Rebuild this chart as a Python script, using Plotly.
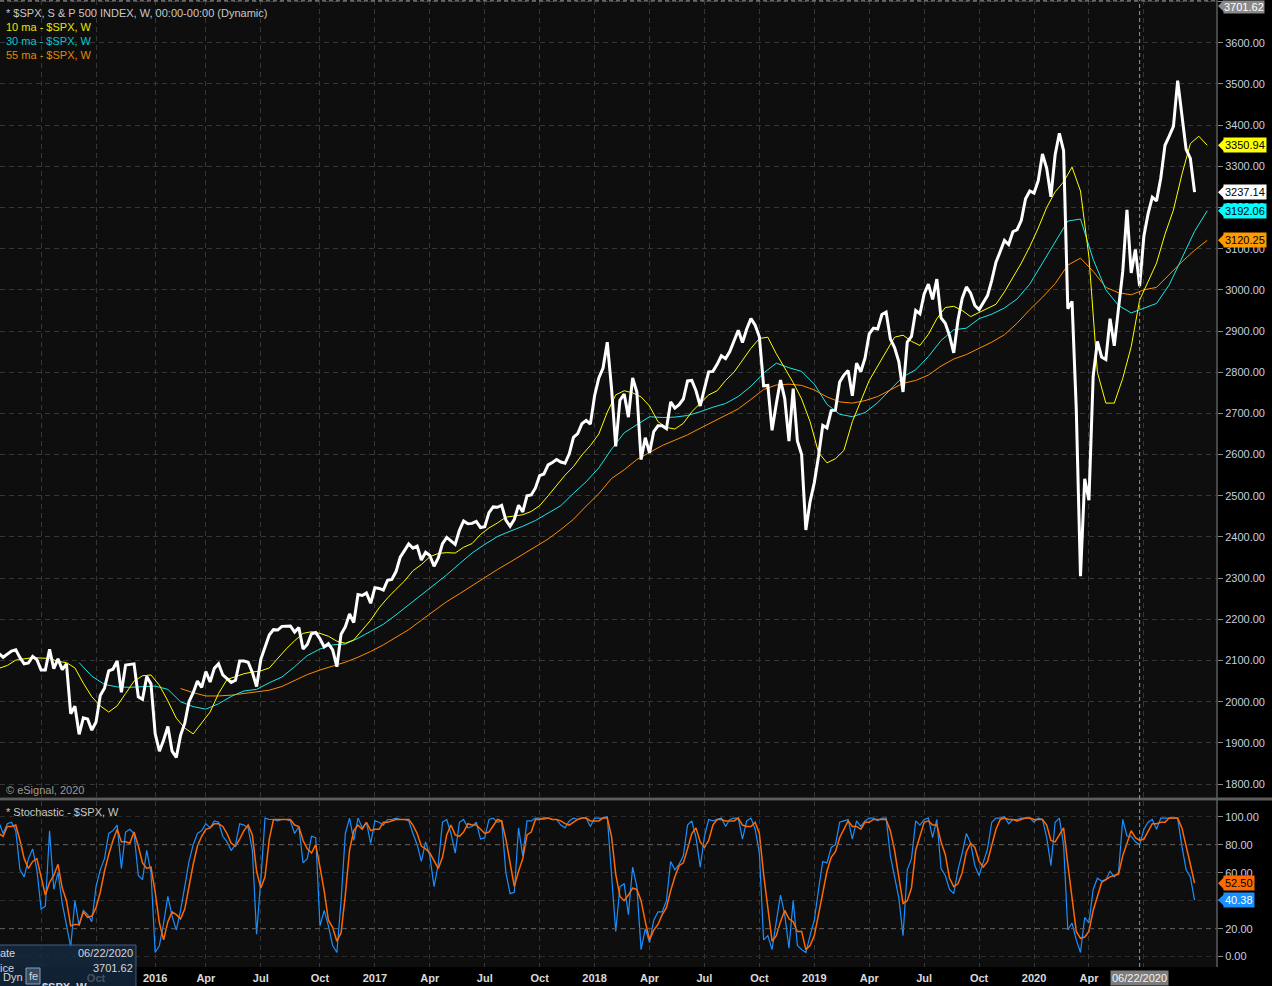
import pandas as pd
import plotly.graph_objects as go

# $SPX weekly closes, one per week (Friday), starting 2015-04-17
first_week = "2015-04-17"
close_2015 = [2081, 2117, 2108, 2116, 2123, 2126, 2107, 2092, 2094, 2110, 2102, 2077, 2077, 2127, 2080, 2104,
              2078, 2092, 1971, 1989, 1921, 1961, 1958, 1931, 1951, 2015, 2033, 2075, 2079, 2099, 2023, 2089,
              2090, 2092, 2012, 2006, 2061, 2044]
close_2016 = [1922, 1880, 1907, 1940, 1880, 1865, 1918, 1948, 2000, 2022, 2050, 2035, 2073, 2048, 2081, 2092,
              2065, 2057, 2047, 2052, 2099, 2099, 2096, 2071, 2037, 2103, 2130, 2162, 2175, 2174, 2183, 2184,
              2184, 2169, 2180, 2128, 2139, 2165, 2168, 2153, 2133, 2141, 2126, 2085, 2164, 2182, 2213, 2192,
              2260, 2258, 2264, 2239]
close_2017 = [2277, 2275, 2271, 2295, 2297, 2316, 2351, 2367, 2383, 2373, 2378, 2344, 2363, 2355, 2329, 2349,
              2384, 2399, 2391, 2382, 2416, 2439, 2432, 2433, 2438, 2423, 2425, 2459, 2473, 2472, 2477, 2441,
              2426, 2443, 2477, 2461, 2500, 2502, 2519, 2549, 2553, 2575, 2581, 2588, 2582, 2579, 2602, 2642,
              2651, 2675, 2683, 2674]
close_2018 = [2743, 2786, 2810, 2873, 2762, 2620, 2732, 2747, 2691, 2786, 2752, 2588, 2641, 2604, 2656, 2670,
              2670, 2663, 2728, 2713, 2721, 2735, 2779, 2780, 2755, 2718, 2760, 2801, 2802, 2819, 2840, 2833,
              2850, 2875, 2902, 2872, 2905, 2930, 2914, 2886, 2767, 2768, 2659, 2723, 2781, 2736, 2633, 2760,
              2633, 2600, 2417, 2486]
close_2019 = [2532, 2596, 2671, 2665, 2707, 2708, 2776, 2793, 2804, 2743, 2822, 2801, 2834, 2893, 2907, 2905,
              2940, 2946, 2881, 2860, 2826, 2752, 2873, 2887, 2950, 2942, 2990, 3014, 2977, 3026, 2932, 2919,
              2889, 2847, 2926, 2979, 3007, 2992, 2962, 2952, 2970, 2986, 3023, 3067, 3093, 3120, 3110, 3141,
              3146, 3169, 3221, 3240]
close_2020 = [3235, 3265, 3330, 3295, 3226, 3328, 3380, 3338, 2954, 2972, 2711, 2305, 2541, 2489, 2790, 2875,
              2837, 2831, 2930, 2864, 2955, 3044, 3194, 3041, 3098, 3009, 3130, 3185, 3225, 3216, 3271, 3351,
              3373, 3397, 3508, 3427, 3341, 3319, 3237.14]
close = close_2015 + close_2016 + close_2017 + close_2018 + close_2019 + close_2020

# moving averages; they run 3 weeks past the last price bar
ma10_start, ma10_step = 1, 2
ma10 = [2081, 2088, 2101, 2104, 2107, 2106, 2105, 2098, 2095, 2082,
        2045, 2012, 1990, 1975, 1990, 2020, 2050, 2063, 2065, 2040,
        2002, 1960, 1936, 1922, 1948, 1975, 2020, 2054, 2061, 2068,
        2072, 2075, 2082, 2105, 2128, 2148, 2166, 2170, 2166, 2159,
        2147, 2142, 2150, 2174, 2198, 2228, 2252, 2273, 2293, 2318,
        2333, 2352, 2360, 2362, 2361, 2375, 2384, 2406, 2422, 2434,
        2448, 2451, 2454, 2462, 2476, 2500, 2525, 2550, 2571, 2599,
        2622, 2650, 2703, 2745, 2755, 2750, 2740, 2718, 2680, 2666,
        2662, 2676, 2704, 2725, 2745, 2755, 2780, 2800, 2828, 2858,
        2882, 2885, 2845, 2810, 2775, 2735, 2680, 2605, 2580, 2590,
        2610, 2680, 2730, 2780, 2815, 2850, 2885, 2890, 2875, 2865,
        2892, 2930, 2957, 2960, 2950, 2935, 2945, 2953, 2965, 2995,
        3030, 3065, 3105, 3150, 3200, 3238, 3262, 3298, 3240, 3080,
        2800, 2725, 2725, 2785, 2862, 2975, 3020, 3065, 3135, 3194,
        3280, 3355, 3373, 3350.94]
ma30_start, ma30_step = 20, 3
ma30 = [2095, 2062, 2042, 2036, 2035, 2037, 2038, 2030, 2000, 1988,
        1982, 1995, 2013, 2026, 2030, 2046, 2060, 2085, 2112, 2128,
        2138, 2140, 2154, 2171, 2188, 2211, 2235, 2258, 2284, 2308,
        2335, 2361, 2382, 2401, 2414, 2426, 2440, 2458, 2476, 2506,
        2534, 2568, 2613, 2653, 2672, 2692, 2690, 2691, 2695, 2704,
        2715, 2724, 2741, 2766, 2798, 2822, 2811, 2802, 2771, 2722,
        2698, 2692, 2702, 2726, 2758, 2789, 2806, 2838, 2877, 2903,
        2907, 2930, 2941, 2956, 2978, 3014, 3065, 3115, 3167, 3172,
        3074, 3000, 2962, 2944, 2956, 2967, 3012, 3078, 3142, 3192.06]
ma55_start, ma55_step = 44, 3
ma55 = [2032, 2022, 2014, 2014, 2016, 2020, 2023, 2028, 2037, 2052,
        2066, 2077, 2087, 2096, 2108, 2122, 2138, 2157, 2175, 2198,
        2221, 2243, 2262, 2282, 2302, 2321, 2339, 2358, 2376, 2395,
        2418, 2443, 2475, 2505, 2542, 2563, 2588, 2606, 2622, 2635,
        2648, 2664, 2680, 2694, 2711, 2734, 2758, 2769, 2771, 2768,
        2757, 2740, 2728, 2725, 2731, 2741, 2757, 2773, 2780, 2793,
        2815, 2832, 2843, 2857, 2873, 2891, 2919, 2952, 2982, 3015,
        3060, 3077, 3045, 3006, 2993, 2988, 3000, 3006, 3038, 3068,
        3096, 3120.25]

# weekly stochastic, %K (blue) and %D (orange), one value per price bar
stoch_k = [75, 96, 88, 95, 96, 90, 62, 57, 70, 77,
           62, 34, 36, 90, 48, 60, 38, 22, 7, 40,
           22, 33, 30, 25, 50, 62, 70, 88, 90, 94,
           63, 89, 91, 88, 58, 55, 76, 60, 3, 8,
           24, 43, 29, 19, 33, 50, 68, 80, 88, 90,
           95, 92, 97, 96, 86, 82, 76, 80, 95, 94,
           92, 76, 16, 55, 99, 98, 98, 97, 98, 98,
           97, 88, 93, 67, 70, 86, 85, 22, 33, 22,
           8, 3, 40, 88, 99, 83, 99, 92, 96, 81,
           97, 96, 94, 98, 98, 99, 98, 98, 97, 88,
           80, 68, 82, 72, 50, 66, 96, 98, 88, 74,
           96, 98, 92, 93, 96, 84, 85, 98, 99, 96,
           97, 60, 45, 46, 92, 72, 97, 97, 99, 99,
           98, 99, 98, 98, 94, 92, 97, 99, 98, 99,
           99, 93, 99, 99, 99, 100, 60, 18, 50, 52,
           30, 64, 50, 5, 20, 10, 26, 32, 32, 40,
           68, 62, 66, 72, 94, 97, 85, 64, 86, 98,
           97, 98, 99, 93, 98, 99, 99, 84, 97, 99,
           91, 74, 12, 15, 5, 25, 44, 30, 6, 40,
           8, 5, 3, 15, 26, 48, 68, 67, 78, 80,
           96, 97, 98, 84, 97, 93, 97, 99, 99, 97,
           99, 99, 72, 57, 42, 15, 62, 70, 97, 94,
           98, 99, 85, 98, 63, 58, 48, 45, 62, 74,
           88, 81, 65, 58, 68, 77, 96, 99, 99, 100,
           95, 98, 98, 99, 99, 99, 96, 99, 98, 85,
           65, 96, 99, 80, 19, 24, 12, 3, 28, 24,
           48, 56, 54, 55, 61, 57, 60, 98, 86, 86,
           82, 80, 91, 96, 98, 91, 99, 99, 99, 99,
           99, 79, 62, 57, 40.38]
stoch_d = [85, 88, 86, 93, 93, 94, 83, 70, 63, 68,
           70, 58, 44, 53, 58, 66, 49, 40, 22, 23,
           23, 32, 28, 29, 35, 46, 61, 73, 83, 91,
           82, 82, 81, 89, 79, 67, 63, 64, 46, 24,
           12, 25, 32, 30, 27, 34, 50, 66, 79, 86,
           91, 92, 95, 95, 93, 88, 81, 79, 84, 90,
           94, 87, 61, 49, 57, 84, 98, 98, 98, 98,
           98, 94, 93, 83, 77, 74, 80, 64, 47, 26,
           21, 11, 17, 44, 76, 90, 94, 91, 96, 90,
           91, 91, 96, 96, 97, 98, 98, 98, 98, 94,
           88, 79, 77, 74, 68, 63, 71, 87, 94, 87,
           86, 89, 95, 94, 94, 91, 88, 89, 94, 98,
           97, 84, 67, 50, 61, 70, 87, 89, 98, 98,
           99, 99, 98, 98, 97, 95, 94, 96, 98, 99,
           99, 97, 97, 97, 99, 99, 86, 59, 43, 40,
           44, 49, 48, 40, 25, 12, 19, 23, 30, 35,
           47, 57, 65, 67, 77, 88, 92, 82, 78, 83,
           94, 98, 98, 97, 97, 97, 99, 94, 93, 93,
           96, 88, 59, 34, 11, 15, 25, 33, 27, 25,
           18, 18, 5, 8, 15, 30, 47, 61, 71, 75,
           85, 91, 97, 93, 93, 91, 96, 96, 98, 98,
           98, 98, 90, 76, 57, 38, 40, 49, 76, 87,
           96, 97, 94, 94, 82, 73, 56, 50, 52, 60,
           75, 81, 78, 68, 64, 68, 80, 91, 98, 99,
           98, 98, 97, 98, 99, 99, 98, 98, 98, 94,
           83, 82, 87, 92, 66, 41, 18, 13, 14, 18,
           33, 43, 53, 55, 57, 58, 59, 72, 81, 90,
           85, 83, 84, 89, 95, 95, 96, 96, 99, 99,
           99, 92, 80, 66, 52.5]

quarter_dates = ["2015-07-03", "2015-10-02", "2016-01-08", "2016-04-01", "2016-07-01", "2016-10-07",
                 "2017-01-06", "2017-04-07", "2017-07-07", "2017-10-06", "2018-01-05", "2018-04-06",
                 "2018-07-06", "2018-10-05", "2019-01-04", "2019-04-05", "2019-07-05", "2019-10-04",
                 "2020-01-03", "2020-04-03", "2020-07-03"]
quarter_labels = ["", "Oct", "2016", "Apr", "Jul", "Oct", "2017", "Apr", "Jul", "Oct", "2018", "Apr",
                  "Jul", "Oct", "2019", "Apr", "Jul", "Oct", "2020", "Apr", "Jul"]

cursor_date_label = "06/22/2020"
cursor_price = 3701.62

W, H = 1272, 986
weeks = pd.date_range(first_week, periods=len(close) + 3, freq="7D")
bars = weeks[:len(close)]


def px(x):
    return x / W


def py(y):
    return 1 - y / H


def week_at(k):
    return weeks[0] + pd.Timedelta(days=7 * k)


plot_right = px(1217)
font_name = "Liberation Sans, Arial, sans-serif"

fig = go.Figure()

# main pane
fig.add_trace(go.Scatter(x=weeks[ma55_start::ma55_step][:len(ma55)], y=ma55, mode="lines",
                         line=dict(color="#ff8c00", width=1)))
fig.add_trace(go.Scatter(x=weeks[ma30_start::ma30_step][:len(ma30)], y=ma30, mode="lines",
                         line=dict(color="#1ee6e6", width=1)))
fig.add_trace(go.Scatter(x=weeks[ma10_start::ma10_step][:len(ma10)], y=ma10, mode="lines",
                         line=dict(color="#ffff00", width=1)))
fig.add_trace(go.Scatter(x=bars, y=close, mode="lines", line=dict(color="#ffffff", width=3)))

# stochastic pane
fig.add_trace(go.Scatter(x=bars, y=stoch_k, mode="lines", xaxis="x2", yaxis="y2",
                         line=dict(color="#1a8fff", width=1.2)))
fig.add_trace(go.Scatter(x=bars, y=stoch_d, mode="lines", xaxis="x2", yaxis="y2",
                         line=dict(color="#ff6a00", width=1.5)))

grid = dict(showgrid=True, gridcolor="#363636", griddash="5px,4px", gridwidth=1, zeroline=False)
axis_font = dict(family=font_name, size=11, color="#c5cfe0")

fig.update_layout(
    width=W, height=H, margin=dict(l=0, r=0, t=0, b=0),
    paper_bgcolor="#000000", plot_bgcolor="#0e0e0e",
    showlegend=False, font=dict(family=font_name),
    xaxis=dict(domain=[0, plot_right], anchor="y", type="date",
               range=[week_at(1.27), week_at(289.31)],
               tickvals=quarter_dates, showticklabels=False, ticks="", **grid),
    xaxis2=dict(domain=[0, plot_right], anchor="y2", matches="x", type="date",
                tickvals=quarter_dates, ticktext=["<b>%s</b>" % t for t in quarter_labels],
                tickfont=dict(family=font_name, size=11, color="#dadada"), ticks="",
                ticklabelstandoff=3, **grid),
    yaxis=dict(domain=[py(797), 1], anchor="x", side="right", range=[1768.7, 3703.7],
               tickvals=list(range(1800, 3701, 100)), tickformat=".2f",
               ticks="outside", ticklen=5, tickcolor="#8a8a8a", tickfont=axis_font, **grid),
    yaxis2=dict(domain=[py(967), py(801)], anchor="x2", side="right", range=[-7.4, 111.2],
                tickvals=[0, 20, 40, 60, 80, 100], tickformat=".2f",
                ticks="outside", ticklen=5, tickcolor="#8a8a8a", tickfont=axis_font,
                showgrid=True, gridcolor="#2c2c2c", griddash="5px,4px", zeroline=False),
)

shapes = []
# stronger 80 / 20 levels
for level in (80, 20):
    shapes.append(dict(type="line", xref="paper", yref="y2", x0=0, x1=plot_right, y0=level, y1=level,
                       line=dict(color="#5e5e5e", width=1, dash="5px,4px")))
# pane separators
shapes.append(dict(type="line", xref="paper", yref="paper", x0=0, x1=1, y0=py(799), y1=py(799),
                   line=dict(color="#5c5c5c", width=3)))
shapes.append(dict(type="line", xref="paper", yref="paper", x0=plot_right, x1=plot_right,
                   y0=py(967), y1=1, line=dict(color="#5c5c5c", width=1.5)))
# cursor cross-hair
cursor_week = weeks[271]
shapes.append(dict(type="line", xref="x", yref="paper", x0=cursor_week, x1=cursor_week,
                   y0=py(967), y1=1, line=dict(color="#9a9a9a", width=1, dash="4px,3px")))
shapes.append(dict(type="line", xref="paper", yref="y", x0=0, x1=plot_right,
                   y0=cursor_price, y1=cursor_price, line=dict(color="#9a9a9a", width=1, dash="4px,3px")))

annotations = []

# header texts
headers = [("* $SPX, S & P 500 INDEX, W, 00:00-00:00 (Dynamic)", "#c8c8c8", 13),
           ("10 ma - $SPX, W", "#e6e600", 27),
           ("30 ma - $SPX, W", "#00c8cc", 41),
           ("55 ma - $SPX, W", "#e08800", 55),
           ("© eSignal, 2020", "#9a9a9a", 790),
           ("* Stochastic - $SPX, W", "#c8c8c8", 812)]
for text, color, y in headers:
    annotations.append(dict(text=text, xref="paper", yref="paper", x=px(4), y=py(y),
                            xanchor="left", yanchor="middle", showarrow=False,
                            font=dict(family=font_name, size=11, color=color)))

# last-value tags on the right scales
tags = [(3350.94, "y", "#ffff00", "#000000"),
        (3237.14, "y", "#ffffff", "#000000"),
        (3192.06, "y", "#00ffff", "#000000"),
        (3120.25, "y", "#ff9a00", "#000000"),
        (52.50, "y2", "#ff6a00", "#000000"),
        (40.38, "y2", "#1a8fff", "#ffffff")]
for value, yref, bg, fg in tags:
    half = 6 / 0.41189 if yref == "y" else 6 / 1.4
    shapes.append(dict(type="path", xref="paper", yref=yref, fillcolor=bg, line=dict(width=0),
                       path="M %f,%f L %f,%f L %f,%f Z" % (px(1218), value, px(1224), value + half,
                                                            px(1224), value - half)))
    annotations.append(dict(text="%.2f" % value, xref="paper", yref=yref, x=px(1223), y=value,
                            xanchor="left", yanchor="middle", showarrow=False, bgcolor=bg,
                            borderpad=1, font=dict(family=font_name, size=11, color=fg)))

# cursor price tag (top) and cursor date tag (bottom)
shapes.append(dict(type="path", xref="paper", yref="paper", fillcolor="#8a8a8a", line=dict(width=0),
                   path="M %f,%f L %f,%f L %f,%f Z" % (px(1218), py(6), px(1224), py(0), px(1224), py(12))))
annotations.append(dict(text="%.2f" % cursor_price, xref="paper", yref="paper", x=px(1223), y=1,
                        xanchor="left", yanchor="top", showarrow=False, bgcolor="#8a8a8a",
                        borderpad=0, font=dict(family=font_name, size=11, color="#ffffff")))
annotations.append(dict(text=cursor_date_label, xref="x", yref="paper", x=cursor_week, y=py(978),
                        xanchor="center", yanchor="middle", showarrow=False, bgcolor="#7c7c7c",
                        borderpad=1, font=dict(family=font_name, size=11, color="#f2f2f2")))

# data window box in the lower left corner
shapes.append(dict(type="rect", xref="paper", yref="paper", x0=px(-2), x1=px(136), y0=py(988), y1=py(945),
                   fillcolor="rgba(22,42,66,0.78)", line=dict(color="#3e5f82", width=1), layer="above"))
shapes.append(dict(type="rect", xref="paper", yref="paper", x0=px(26), x1=px(40), y0=py(984), y1=py(968),
                   fillcolor="#344a62", line=dict(color="#8a9cb2", width=1), layer="above"))
box_font = dict(family=font_name, size=11, color="#d2d6dc")
annotations += [
    dict(text="Date", x=px(17), y=py(953), xanchor="right"),
    dict(text=cursor_date_label, x=px(135), y=py(953), xanchor="right"),
    dict(text="Price", x=px(16), y=py(968), xanchor="right"),
    dict(text="%.2f" % cursor_price, x=px(135), y=py(968), xanchor="right"),
    dict(text="Dyn", x=px(1), y=py(977), xanchor="left"),
    dict(text="fe", x=px(33), y=py(976), xanchor="center"),
    dict(text="<b>$SPX, W</b>", x=px(40), y=py(987), xanchor="left"),
]
for a in annotations[-7:]:
    a.update(xref="paper", yref="paper", yanchor="middle", showarrow=False, font=box_font)

fig.update_layout(shapes=shapes, annotations=annotations)
# the page is shown at exactly the figure size, so drop the browser's default body margin
fig.write_html("out.html", config={"displayModeBar": False},
               post_script="document.body.style.margin='0';document.body.style.overflow='hidden';")
